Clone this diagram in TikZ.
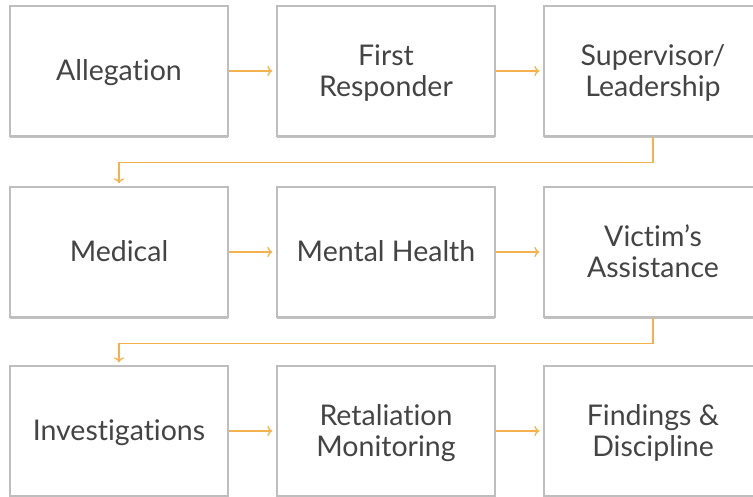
\documentclass[tikz,border=0pt]{standalone}
\usepackage{fontspec}
\setmainfont[RawFeature={-liga}]{Lato}
\usetikzlibrary{shadows,arrows.meta}
\definecolor{boxline}{RGB}{190,190,190}
\definecolor{flow}{RGB}{243,178,78}
\definecolor{label}{RGB}{68,68,68}
\begin{document}
\begin{tikzpicture}[x=1pt,y=-1pt,
  stepbox/.style={draw=boxline,line width=1.3pt,fill=white,
    minimum width=218pt,minimum height=130pt,inner sep=0pt,
    align=center,text=label,font=\fontsize{28.5}{31}\selectfont,
    text depth=1pt,
    drop shadow={shadow xshift=0pt,shadow yshift=-2pt,opacity=0.4,fill=black!60}},
  flowline/.style={draw=flow,line width=1.3pt,-{To[length=5pt,width=10pt]}}]
\useasboundingbox (0,0) rectangle (753,497);
\clip (0,0) rectangle (753,497);
% first row
\node[stepbox] (n1) at (119,71) {Allegation};
\node[stepbox] (n2) at (386,71) {First\\Responder};
\node[stepbox] (n3) at (653,71) {Supervisor/\\Leadership};
% second row
\node[stepbox] (n4) at (119,252) {Medical};
\node[stepbox] (n5) at (386,252) {Mental Health};
\node[stepbox] (n6) at (653,252) {Victim’s\\Assistance};
% third row
\node[stepbox] (n7) at (119,431) {Investigations};
\node[stepbox] (n8) at (386,431) {Retaliation\\Monitoring};
\node[stepbox] (n9) at (653,431) {Findings \&\\Discipline};
% arrows within rows
\foreach \a/\b in {n1/n2,n2/n3,n4/n5,n5/n6,n7/n8,n8/n9}
  \draw[flowline,shorten >=4pt] (\a.east) -- (\b.west);
% arrows between rows
\draw[flowline,shorten >=3pt] (n3.south) -- ++(0,26) -| (n4.north);
\draw[flowline,shorten >=3pt] (n6.south) -- ++(0,26) -| (n7.north);
\end{tikzpicture}
\end{document}
